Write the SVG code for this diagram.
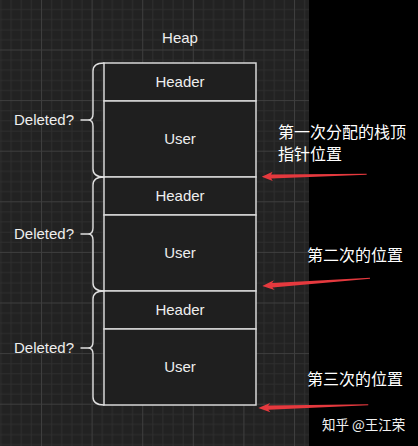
<svg xmlns="http://www.w3.org/2000/svg" width="418" height="446" viewBox="0 0 418 446">
  <style>
    .box { fill: #1f1f1f; stroke: #d8d8d8; stroke-width: 1.5; }
    .lbl { font-family: "Liberation Sans", Arial, sans-serif; font-size: 15px; fill: #eeeeee; }
    .mid { text-anchor: middle; }
    .brace { fill: none; stroke: #e0e0e0; stroke-width: 1.4; stroke-linecap: round; stroke-linejoin: round; }
    .cn { font-family: "Noto Sans CJK SC", "Noto Sans", sans-serif; font-size: 16px; fill: #ffffff; }
    .wm { font-family: "Noto Sans CJK SC", "Noto Sans", sans-serif; font-size: 13.5px; fill: #f2f2f2; }
    .arrow { fill: #e5393e; }
  </style>
  <defs>
    <pattern id="grid" patternUnits="userSpaceOnUse" x="41" y="49.5" width="50.6" height="50.6">
      <rect width="50.6" height="50.6" fill="#222222"/>
      <g stroke="#2e2e2e" stroke-width="1">
        <line x1="10.6" y1="0" x2="10.6" y2="50.6"/>
        <line x1="20.7" y1="0" x2="20.7" y2="50.6"/>
        <line x1="30.9" y1="0" x2="30.9" y2="50.6"/>
        <line x1="41" y1="0" x2="41" y2="50.6"/>
        <line x1="0" y1="10.6" x2="50.6" y2="10.6"/>
        <line x1="0" y1="20.7" x2="50.6" y2="20.7"/>
        <line x1="0" y1="30.9" x2="50.6" y2="30.9"/>
        <line x1="0" y1="41" x2="50.6" y2="41"/>
      </g>
      <g stroke="#3e3e3e" stroke-width="1">
        <line x1="0.5" y1="0" x2="0.5" y2="50.6"/>
        <line x1="0" y1="0.5" x2="50.6" y2="0.5"/>
      </g>
    </pattern>
  </defs>

  <rect x="0" y="0" width="418" height="446" fill="#000000"/>
  <rect x="0" y="0" width="309" height="446" fill="url(#grid)"/>

  <g id="heap-title">
    <text class="lbl mid" x="180" y="43">Heap</text>
  </g>

  <g id="header1">
    <rect class="box" x="104" y="63" width="152" height="38"/>
    <text class="lbl mid" x="180" y="87">Header</text>
  </g>
  <g id="user1">
    <rect class="box" x="104" y="101" width="152" height="76"/>
    <text class="lbl mid" x="180" y="144">User</text>
  </g>
  <g id="header2">
    <rect class="box" x="104" y="177" width="152" height="38"/>
    <text class="lbl mid" x="180" y="201">Header</text>
  </g>
  <g id="user2">
    <rect class="box" x="104" y="215" width="152" height="76"/>
    <text class="lbl mid" x="180" y="258">User</text>
  </g>
  <g id="header3">
    <rect class="box" x="104" y="291" width="152" height="38"/>
    <text class="lbl mid" x="180" y="315">Header</text>
  </g>
  <g id="user3">
    <rect class="box" x="104" y="329" width="152" height="76"/>
    <text class="lbl mid" x="180" y="372">User</text>
  </g>

  <g id="brace1">
    <path class="brace" d="M104,63 Q93,63 93,71 L93,114 Q93,120 88,120 L81,120 M88,120 Q93,120 93,126 L93,169 Q93,177 104,177"/>
    <text class="lbl" x="14" y="125">Deleted?</text>
  </g>
  <g id="brace2">
    <path class="brace" d="M104,177 Q93,177 93,185 L93,228 Q93,234 88,234 L81,234 M88,234 Q93,234 93,240 L93,283 Q93,291 104,291"/>
    <text class="lbl" x="14" y="239">Deleted?</text>
  </g>
  <g id="brace3">
    <path class="brace" d="M104,291 Q93,291 93,299 L93,342 Q93,348 88,348 L81,348 M88,348 Q93,348 93,354 L93,397 Q93,405 104,405"/>
    <text class="lbl" x="14" y="353">Deleted?</text>
  </g>

  <g id="note1">
    <text class="cn" x="278" y="138">第一次分配的栈顶</text>
    <text class="cn" x="278" y="160">指针位置</text>
  </g>
  <g id="note2">
    <text class="cn" x="307" y="261">第二次的位置</text>
  </g>
  <g id="note3">
    <text class="cn" x="307" y="385">第三次的位置</text>
  </g>
  <g id="watermark">
    <text class="wm" x="322" y="430">知乎 @王江荣</text>
  </g>

  <g id="connectors">
    <path class="arrow" transform="translate(261.7,176.7) rotate(-1.3)" d="M0,0 L11,-4.6 L9.5,-2.1 L105,-0.5 L105,0.5 L9.5,2.1 L11,4.6 Z"/>
    <path class="arrow" transform="translate(262.3,286) rotate(-4.1)" d="M0,0 L12,-4.8 L10,-2.2 L108,-0.5 L108,0.5 L10,2.2 L12,4.8 Z"/>
    <path class="arrow" transform="translate(258.3,408) rotate(-1.7)" d="M0,0 L12,-4.6 L10,-2.1 L110,-0.5 L110,0.5 L10,2.1 L12,4.6 Z"/>
  </g>
</svg>
